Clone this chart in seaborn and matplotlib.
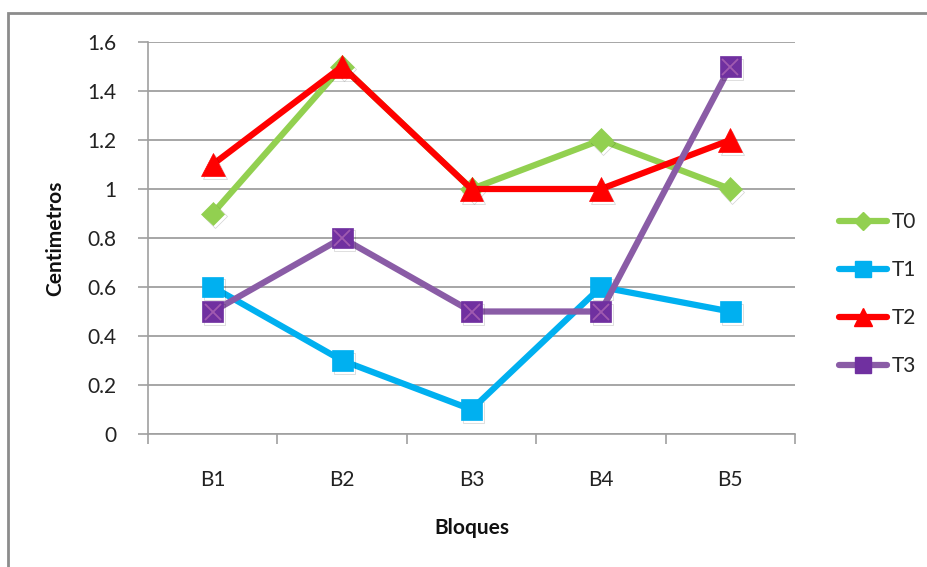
import matplotlib
matplotlib.use("Agg")
import matplotlib.pyplot as plt
import matplotlib.patheffects as pe
from matplotlib.lines import Line2D
from matplotlib.patches import Rectangle
from matplotlib.ticker import FixedLocator, NullFormatter, FixedFormatter
import numpy as np
import pandas as pd
import seaborn as sns

# Data
bloques = ["B1", "B2", "B3", "B4", "B5"]
t0 = [0.9, 1.5, 1.0, 1.2, 1.0]
t1 = [0.6, 0.3, 0.1, 0.6, 0.5]
t2 = [1.1, 1.5, 1.0, 1.0, 1.2]
t3 = [0.5, 0.8, 0.5, 0.5, 1.5]
tratamientos = ["T0", "T1", "T2", "T3"]
y_ticks = [0, 0.2, 0.4, 0.6, 0.8, 1, 1.2, 1.4, 1.6]
y_tick_labels = ["0", "0.2", "0.4", "0.6", "0.8", "1", "1.2", "1.4", "1.6"]

series = {"T0": t0, "T1": t1, "T2": t2, "T3": t3}
df = pd.DataFrame(
    [(i, b, t, series[t][i]) for t in tratamientos for i, b in enumerate(bloques)],
    columns=["pos", "Bloque", "Tratamiento", "Centimetros"],
)

sns.set_theme(style="white")
plt.rcParams["font.family"] = ["Lato", "DejaVu Sans"]

line_colors = {"T0": "#92D050", "T1": "#00B0F0", "T2": "#FF0000", "T3": "#8A5CA6"}
marker_face = {"T0": "#92D050", "T1": "#00B0F0", "T2": "#FF0000", "T3": "#7030A0"}
marker_shape = {"T0": "D", "T1": "s", "T2": "^", "T3": "s"}
marker_size = {"T0": 12, "T1": 15, "T2": 17, "T3": 15}

fig = plt.figure(figsize=(9.27, 5.67), dpi=100)
ax = fig.add_axes([148 / 927, 1 - 434 / 567, (795 - 148) / 927, (434 - 42) / 567])

shadow = [pe.SimpleLineShadow(offset=(1.5, -2.0), alpha=0.18, shadow_color="black"), pe.Normal()]

for k, t in enumerate(tratamientos):
    sub = df[df["Tratamiento"] == t]
    # connecting line
    sns.lineplot(data=sub, x="pos", y="Centimetros", ax=ax, color=line_colors[t],
                 linewidth=4.5, legend=False, zorder=3 + k)
    # markers with a soft drop shadow
    ax.plot(sub["pos"], sub["Centimetros"], linestyle="none", marker=marker_shape[t],
            markersize=marker_size[t], markerfacecolor=marker_face[t],
            markeredgecolor=marker_face[t], markeredgewidth=0.5, zorder=3.5 + k,
            path_effects=shadow)
    if t == "T3":
        ax.plot(sub["pos"], sub["Centimetros"], linestyle="none", marker="x",
                markersize=12, markeredgecolor="#A05AB0", markeredgewidth=1.3, zorder=3.6 + k)

ax.set_xlim(-0.5, 4.5)
ax.set_ylim(0, 1.6)

# Category boundaries carry the tick marks; labels sit at the centers
ax.xaxis.set_major_locator(FixedLocator(np.arange(-0.5, 5.0, 1.0)))
ax.xaxis.set_major_formatter(NullFormatter())
ax.xaxis.set_minor_locator(FixedLocator(np.arange(0, 5)))
ax.xaxis.set_minor_formatter(FixedFormatter(bloques))
ax.tick_params(axis="x", which="major", direction="out", length=7, width=1.2, color="#A0A0A0", bottom=True)
ax.tick_params(axis="x", which="minor", length=0, pad=26, labelsize=15, labelcolor="#222222", bottom=True)

ax.set_yticks(y_ticks)
ax.set_yticklabels(y_tick_labels)
ax.tick_params(axis="y", direction="out", length=7, width=1.2, color="#A0A0A0",
               labelsize=15, labelcolor="#222222", pad=16, left=True)

ax.grid(axis="y", color="#A6A6A6", linewidth=1.4)
ax.grid(axis="x", visible=False)
ax.set_axisbelow(True)
for side in ["top", "right"]:
    ax.spines[side].set_visible(False)
for side in ["left", "bottom"]:
    ax.spines[side].set_color("#A0A0A0")
    ax.spines[side].set_linewidth(1.2)

ax.set_xlabel("Bloques", fontsize=15, fontweight="bold", color="#111111")
ax.set_ylabel("Centimetros", fontsize=15, fontweight="bold", color="#111111")
ax.xaxis.set_label_coords(0.5, -0.215)
ax.yaxis.set_label_coords(-0.128, 0.5)

handles = []
for t in tratamientos:
    handles.append(Line2D([], [], color=line_colors[t], linewidth=4.5, marker=marker_shape[t],
                          markersize=marker_size[t] * 0.75, markerfacecolor=marker_face[t],
                          markeredgecolor=marker_face[t]))
fig.legend(handles, tratamientos, loc="center left", bbox_to_anchor=(820 / 927, 1 - 294 / 567),
           frameon=False, fontsize=15, handlelength=2.3, handletextpad=0.25, labelspacing=1.35)

# Chart frame
fig.add_artist(Rectangle((8 / 927, -0.05), 1.2, 1 - 13 / 567 + 0.05, transform=fig.transFigure,
                         fill=False, edgecolor="#8C8C8C", linewidth=2))

fig.savefig("out.png", dpi=100, facecolor="white")
